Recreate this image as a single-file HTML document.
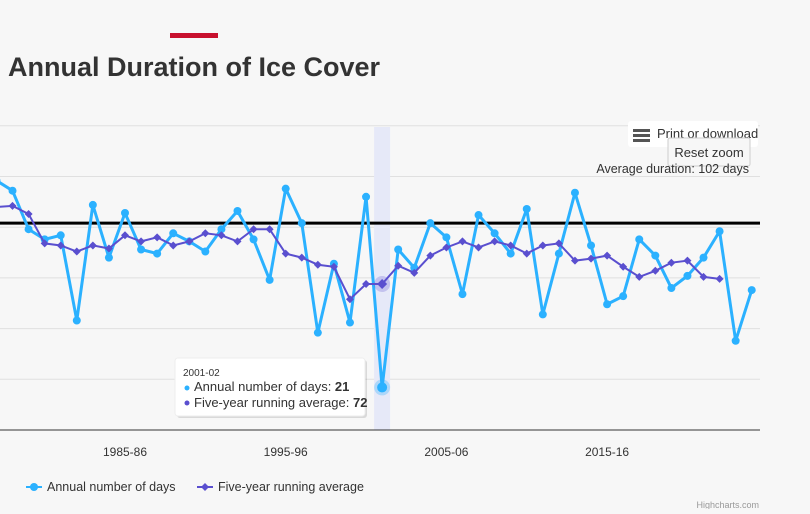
<!DOCTYPE html>
<html><head><meta charset="utf-8"><style>
html,body{margin:0;padding:0;background:#f7f7f7;}
body{width:810px;height:509px;overflow:hidden;position:relative;font-family:"Liberation Sans",sans-serif;}
svg text{font-family:"Liberation Sans",sans-serif;}
</style></head><body>
<svg id="chart" width="810" height="509" xmlns="http://www.w3.org/2000/svg">
<rect x="0" y="0" width="810" height="509" fill="#f7f7f7"/>
<rect x="170" y="33" width="48" height="5" fill="#c8102e"/>
<text x="8" y="76" font-size="27" font-weight="bold" fill="#333">Annual Duration of Ice Cover</text>
<g id="grid"></g>
<rect id="band" y="127" width="16" height="303" fill="#e6e9f8"/>
<line id="avgline" x1="0" x2="760" stroke="#000" stroke-width="3"/>
<line x1="0" x2="760" y1="430" y2="430" stroke="#333" stroke-width="1"/>
<g id="xticks"></g>
<g id="series"></g>
<rect x="628" y="121" width="130" height="26" rx="3" fill="#fff"/>
<g><rect x="633" y="129" width="17" height="3" fill="#555"/><rect x="633" y="134" width="17" height="3" fill="#555"/><rect x="633" y="139" width="17" height="3" fill="#555"/></g>
<text x="657" y="138" font-size="13" fill="#333">Print or download</text>
<rect x="668" y="138" width="82" height="28" fill="#f7f7f7" stroke="#ccc" rx="2"/>
<text x="709" y="157" font-size="13" fill="#333" text-anchor="middle">Reset zoom</text>
<text x="749" y="173" font-size="12.5" fill="#333" text-anchor="end">Average duration: 102 days</text>
<g>
<rect x="177" y="360" width="190" height="58" rx="3" fill="#000" opacity="0.12"/>
<rect x="175" y="358" width="190" height="58" rx="3" fill="#fff" stroke="#eee"/>
<text x="183" y="376" font-size="10" fill="#333">2001-02</text>
<circle cx="187" cy="388" r="2.5" fill="#2bb1ff"/>
<text x="194" y="391" font-size="13" fill="#333">Annual number of days: <tspan font-weight="bold">21</tspan></text>
<circle cx="187" cy="403" r="2.5" fill="#5a4fcf"/>
<text x="194" y="407" font-size="13" fill="#333">Five-year running average: <tspan font-weight="bold">72</tspan></text>
</g>
<g>
<g><line x1="26" x2="42" y1="487" y2="487" stroke="#2bb1ff" stroke-width="2"/><circle cx="34" cy="487" r="4" fill="#2bb1ff"/><text x="47" y="491" font-size="12.5" fill="#333">Annual number of days</text></g>
<g><line x1="197" x2="213" y1="487" y2="487" stroke="#5a4fcf" stroke-width="2"/><path d="M205 483 L209 487 L205 491 L201 487Z" fill="#5a4fcf"/><text x="218" y="491" font-size="12.5" fill="#333">Five-year running average</text></g>
</g>
<text x="759" y="508" font-size="9" fill="#999" text-anchor="end">Highcharts.com</text>
</svg>
<script>
const startYear = 1977;
const annualDays = [123,118,99,94,96,54,111,85,107,89,87,97,93,88,99,108,94,74,119,102,48,82,53,115,21,89,80,102,95,67,106,97,87,109,57,87,117,91,62,66,94,86,70,76,85,98,44,69];
const fiveYearAvg = [110,110.5,106.5,92,91,88,91,89.5,96,93,95,91,93,97,96,93,99,99,87,85,81.5,80.5,64.5,72,72,81,77.5,86,90,93,90,93,91,87,91,92,83.5,84.5,86,80.5,75.5,78.5,82.5,83.5,75.5,74.5];
const yTicks = [0,25,50,75,100,125,150];
const xTickLabels = ["1985-86","1995-96","2005-06","2015-16"];
const averageValue = 102;
const highlightIndex = 24;

const NS="http://www.w3.org/2000/svg";
const xScale = i => 125 + (i - (1985-startYear)) * 16.07;
const yScale = v => 430 - v * 2.028;
function mk(tag, attrs, parent){const e=document.createElementNS(NS,tag);for(const k in attrs)e.setAttribute(k,attrs[k]);parent.appendChild(e);return e;}

const grid=document.getElementById('grid');
yTicks.forEach(t=>{ if(t===0) return;
  const l=mk('line',{x1:0,x2:760,y1:yScale(t),y2:yScale(t),stroke:'#e0e0e0','stroke-width':1},grid);
  
  
});
const av=document.getElementById('avgline');
av.setAttribute('y1',yScale(averageValue));av.setAttribute('y2',yScale(averageValue));
document.getElementById('band').setAttribute('x',xScale(highlightIndex)-8);

const xt=document.getElementById('xticks');
xTickLabels.forEach(lab=>{
  const i=parseInt(lab)-startYear;
  const t=mk('text',{x:xScale(i),y:456,'font-size':12,fill:'#333','text-anchor':'middle'},xt);
  t.textContent=lab;
  
  
});

const s=document.getElementById('series');
const p1=mk('polyline',{points:annualDays.map((v,i)=>xScale(i)+','+yScale(v)).join(' '),fill:'none',stroke:'#2bb1ff','stroke-width':3,'stroke-linejoin':'round'},s);


annualDays.forEach((v,i)=>{
  if(i===highlightIndex){const h=mk('circle',{cx:xScale(i),cy:yScale(v),r:8,fill:'#2bb1ff',opacity:0.3},s);}
  const c=mk('circle',{cx:xScale(i),cy:yScale(v),r:i===highlightIndex?5:4,fill:'#2bb1ff'},s);
  
  
});
const p2=mk('polyline',{points:fiveYearAvg.map((v,i)=>xScale(i)+','+yScale(v)).join(' '),fill:'none',stroke:'#5a4fcf','stroke-width':2},s);


fiveYearAvg.forEach((v,i)=>{
  const x=xScale(i),y=yScale(v);
  if(i===highlightIndex){const h=mk('circle',{cx:x,cy:y,r:8,fill:'#5a4fcf',opacity:0.25},s);}
  const r=i===highlightIndex?5:4;
  const d=mk('path',{d:`M${x} ${y-r} L${x+r} ${y} L${x} ${y+r} L${x-r} ${y}Z`,fill:'#5a4fcf'},s);
  
  
});
</script>
</body></html>
